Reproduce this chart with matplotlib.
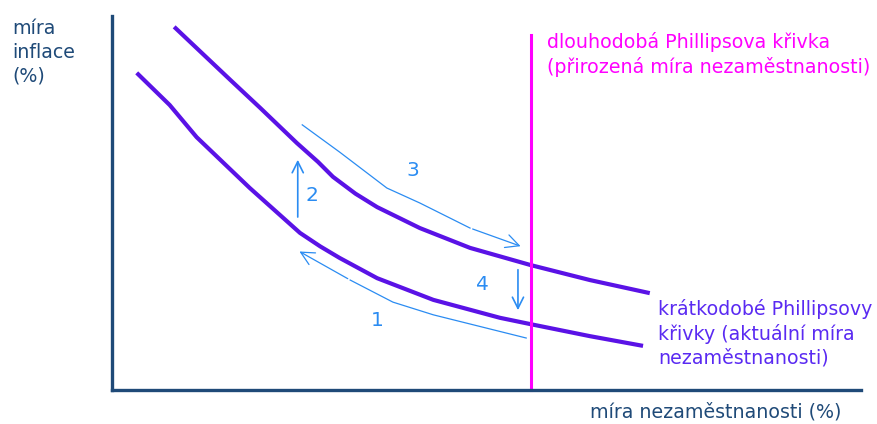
import matplotlib
matplotlib.use("Agg")
import matplotlib.pyplot as plt

# data (abstract units: unemployment 0-10, inflation 0-10)
upper_x = [0.83, 1.58, 1.98, 2.47, 2.75, 2.95, 3.25, 3.54, 4.11, 4.78, 5.59, 6.38, 7.18]
upper_y = [9.71, 8.29, 7.54, 6.60, 6.10, 5.70, 5.25, 4.89, 4.33, 3.80, 3.34, 2.94, 2.59]
lower_x = [0.33, 0.77, 1.13, 1.84, 2.51, 2.78, 3.04, 3.54, 4.29, 5.18, 5.59, 6.38, 7.09]
lower_y = [8.48, 7.62, 6.76, 5.40, 4.20, 3.84, 3.53, 2.99, 2.41, 1.93, 1.76, 1.44, 1.18]
natural_u = 5.59
natural_top = 9.49

path3_x = [2.54, 3.04, 3.67, 4.11, 4.78, 5.49]
path3_y = [7.09, 6.36, 5.40, 5.00, 4.33, 3.82]
path1_x = [5.53, 4.29, 3.75, 3.18, 2.47]
path1_y = [1.39, 2.01, 2.35, 2.94, 3.74]
arrow2 = (2.48, 4.55, 6.23)
arrow4 = (5.42, 3.29, 2.06)
step_labels = ["1", "2", "3", "4"]
label_x = [3.54, 2.67, 4.02, 4.95]
label_y = [1.87, 5.21, 5.88, 2.81]

curve_col = "#5a12e6"
arrow_col = "#2b8cf2"
axis_col = "#1f4a78"

fig = plt.figure(figsize=(8.78, 4.24), dpi=100)
ax = fig.add_axes([112/878, 34/424, 749/878, 374/424])
ax.set_xlim(0, 10)
ax.set_ylim(0, 10)
ax.set_xticks([])
ax.set_yticks([])
for s in ["top", "right"]:
    ax.spines[s].set_visible(False)
for s in ["left", "bottom"]:
    ax.spines[s].set_color(axis_col)
    ax.spines[s].set_linewidth(2.4)

ax.plot(upper_x, upper_y, color=curve_col, lw=3.0, solid_capstyle="butt", solid_joinstyle="round")
ax.plot(lower_x, lower_y, color=curve_col, lw=3.0, solid_capstyle="butt", solid_joinstyle="round")
ax.plot([natural_u, natural_u], [0, natural_top], color="#ff00ff", lw=2.2, clip_on=False)

# movement arrows
aprops = dict(arrowstyle="->", color=arrow_col, lw=0.9, mutation_scale=24)
ax.plot(path3_x[:-1], path3_y[:-1], color=arrow_col, lw=0.9)
ax.annotate("", xy=(path3_x[-1], path3_y[-1]), xytext=(path3_x[-2], path3_y[-2]), arrowprops=aprops)
ax.plot(path1_x[:-1], path1_y[:-1], color=arrow_col, lw=0.9)
ax.annotate("", xy=(path1_x[-1], path1_y[-1]), xytext=(path1_x[-2], path1_y[-2]), arrowprops=aprops)
ax.annotate("", xy=(arrow2[0], arrow2[2]), xytext=(arrow2[0], arrow2[1]),
            arrowprops=dict(arrowstyle="->", color=arrow_col, lw=1.2, mutation_scale=20))
ax.annotate("", xy=(arrow4[0], arrow4[2]), xytext=(arrow4[0], arrow4[1]),
            arrowprops=dict(arrowstyle="->", color=arrow_col, lw=1.2, mutation_scale=20))
for t, x, y in zip(step_labels, label_x, label_y):
    ax.text(x, y, t, color=arrow_col, fontsize=14.5, ha="center", va="center")

fs = 13.7
fig.text(12/878, 1 - 19/424, "míra\ninflace\n(%)", color=axis_col, fontsize=fs,
         ha="left", va="top", linespacing=1.3)
fig.text(547/878, 1 - 32/424, "dlouhodobá Phillipsova křivka\n(přirozená míra nezaměstnanosti)",
         color="#ff00ff", fontsize=fs, ha="left", va="top", linespacing=1.3)
fig.text(658/878, 1 - 299/424, "krátkodobé Phillipsovy\nkřivky (aktuální míra\nnezaměstnanosti)",
         color="#5a2af2", fontsize=fs, ha="left", va="top", linespacing=1.3)
fig.text(590/878, 1 - 412/424, "míra nezaměstnanosti (%)", color=axis_col, fontsize=fs,
         ha="left", va="center")

fig.savefig("out.png", dpi=100)
